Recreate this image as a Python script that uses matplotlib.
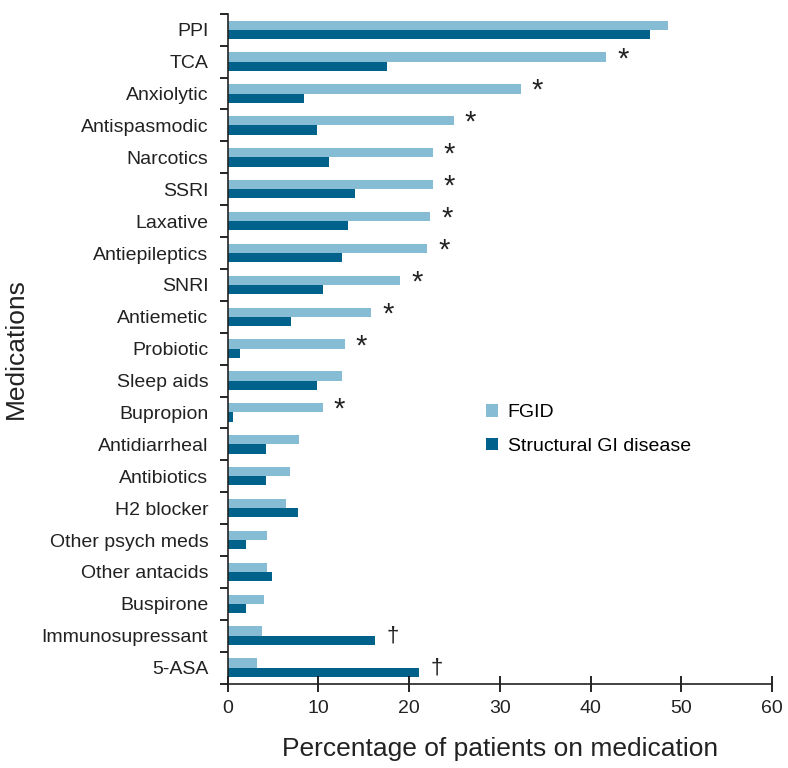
import matplotlib.pyplot as plt
import numpy as np

plt.rcParams['font.family'] = ['Liberation Sans', 'DejaVu Sans']

medications = ["PPI", "TCA", "Anxiolytic", "Antispasmodic", "Narcotics", "SSRI",
               "Laxative", "Antiepileptics", "SNRI", "Antiemetic", "Probiotic",
               "Sleep aids", "Bupropion", "Antidiarrheal", "Antibiotics", "H2 blocker",
               "Other psych meds", "Other antacids", "Buspirone", "Immunosupressant", "5-ASA"]
fgid = [48.5, 41.7, 32.3, 24.9, 22.6, 22.6, 22.3, 22.0, 19.0, 15.8, 12.9,
        12.6, 10.5, 7.9, 6.9, 6.4, 4.3, 4.3, 4.0, 3.8, 3.2]
structural = [46.5, 17.6, 8.4, 9.8, 11.2, 14.0, 13.3, 12.6, 10.5, 7.0, 1.3,
              9.8, 0.6, 4.2, 4.2, 7.7, 2.0, 4.9, 2.0, 16.2, 21.1]
# marks: "*" after FGID bar, "†" after structural bar
star = ["", "*", "*", "*", "*", "*", "*", "*", "*", "*", "*",
        "", "*", "", "", "", "", "", "", "", ""]
dagger = [""] * 19 + ["†", "†"]

light = "#86bcd4"
dark = "#00618a"

fig = plt.figure(figsize=(7.88, 7.68), dpi=100)
ax = fig.add_axes([0.289, 0.11, 0.691, 0.872])

y = np.arange(len(medications))
h = 0.29
ax.barh(y - h / 2, fgid, height=h, color=light, label="FGID")
ax.barh(y + h / 2, structural, height=h, color=dark, label="Structural GI disease")

for i in range(len(medications)):
    if star[i]:
        ax.text(fgid[i] + 1.2, y[i] - 0.08, star[i], fontsize=21, va="center", ha="left",
                color="#222222")
    if dagger[i]:
        ax.text(structural[i] + 1.3, y[i] + 0.0, dagger[i], fontsize=16, va="center", ha="left",
                color="#222222")

ax.set_ylim(len(medications) - 0.5, -0.5)
ax.set_xlim(0, 60)
ax.set_xticks(np.arange(0, 61, 10))
ax.set_yticks(y)
ax.set_yticklabels(medications, fontsize=14, color="#222222")
ax.set_yticks(np.arange(-0.5, len(medications), 1), minor=True)
ax.tick_params(axis="y", which="major", length=0, pad=14)
ax.tick_params(axis="y", which="minor", length=6, width=1.2, direction="out")
ax.tick_params(axis="x", length=12, width=1.2, direction="inout", labelsize=14,
               labelcolor="#222222", pad=6)

for s in ["top", "right"]:
    ax.spines[s].set_visible(False)
for s in ["left", "bottom"]:
    ax.spines[s].set_linewidth(1.2)
    ax.spines[s].set_color("#222222")

ax.set_xlabel("Percentage of patients on medication", fontsize=19, color="#222222", labelpad=14)
ax.set_ylabel("Medications", fontsize=19, color="#222222", labelpad=10)

ax.legend(loc="upper left", bbox_to_anchor=(0.443, 0.443), frameon=False, fontsize=14,
          handlelength=0.6, handleheight=0.6, handletextpad=0.5, labelspacing=0.85)

fig.savefig("out.png", dpi=100)
